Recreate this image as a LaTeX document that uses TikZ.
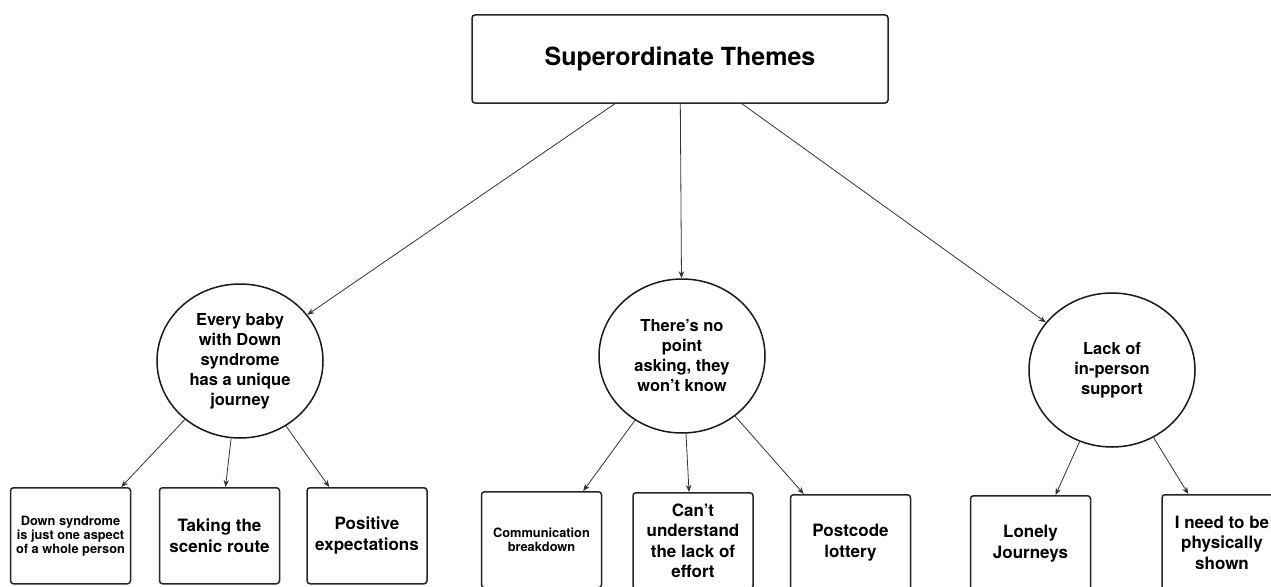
\documentclass[tikz,border=0pt]{standalone}
\usepackage{fontspec}
\setmainfont{TeX Gyre Heros}
\usetikzlibrary{shapes.geometric,arrows.meta}
\begin{document}
\begin{tikzpicture}[x=1pt,y=-1pt,
 topbox/.style={draw=black!85, line width=1.5pt, rounded corners=3pt, minimum width=416pt, minimum height=88pt, inner sep=0pt, font=\bfseries\fontsize{25}{30}\selectfont},
 theme/.style={ellipse, draw=black!90, line width=1.5pt, minimum width=166pt, minimum height=154pt, inner sep=0pt, align=center, font=\bfseries\fontsize{16.5}{20}\selectfont},
 sub/.style={draw=black!85, line width=1.5pt, rounded corners=3pt, minimum width=120pt, minimum height=96pt, inner sep=0pt, anchor=north, align=center, font=\bfseries\fontsize{17}{20.5}\selectfont},
 smalltext/.style={font=\bfseries\fontsize{12.8}{14}\selectfont},
 link/.style={draw=black!80, line width=0.8pt, -{Stealth[length=7pt,width=5.5pt]}}
]
\useasboundingbox (0,0) rectangle (1271,586);
\fill[white] (0,0) rectangle (1271,586);
\clip (0,0) rectangle (1271,586);

\node[topbox] (top) at (680,59) {Superordinate Themes};

\node[theme] (c1) at (240,361) {Every baby\\with Down\\syndrome\\has a unique\\journey};
\node[theme] (c2) at (682,356) {There’s no\\point\\asking, they\\won’t know};
\node[theme] (c3) at (1112,370) {Lack of\\in-person\\support};

\node[sub, smalltext] (b1) at (70.5,487) {Down syndrome\\is just one aspect\\of a whole person};
\node[sub] (b2) at (219.5,487) {Taking the\\scenic route};
\node[sub] (b3) at (367,487) {Positive\\expectations};
\node[sub, smalltext] (b4) at (541.5,491) {Communication\\breakdown};
\node[sub] (b5) at (693,492) {Can’t\\understand\\the lack of\\effort};
\node[sub] (b6) at (850.5,494) {Postcode\\lottery};
\node[sub] (b7) at (1030.5,495) {Lonely\\Journeys};
\node[sub] (b8) at (1222,494) {I need to be\\physically\\shown};

\draw[link] (top) -- (c1);
\draw[link] (top) -- (c2);
\draw[link] (top) -- (c3);

\draw[link] (c1) -- ([xshift=-10pt]b1.north east);
\draw[link] (c1) -- ([xshift=6pt]b2.north);
\draw[link] (c1) -- ([xshift=23pt]b3.north west);

\draw[link] (c2) -- ([xshift=-19pt]b4.north east);
\draw[link] (c2) -- ([xshift=-4pt]b5.north);
\draw[link] (c2) -- ([xshift=14pt]b6.north west);

\draw[link] (c3) -- ([xshift=25pt]b7.north);
\draw[link] (c3) -- ([xshift=27pt]b8.north west);
\end{tikzpicture}
\end{document}
